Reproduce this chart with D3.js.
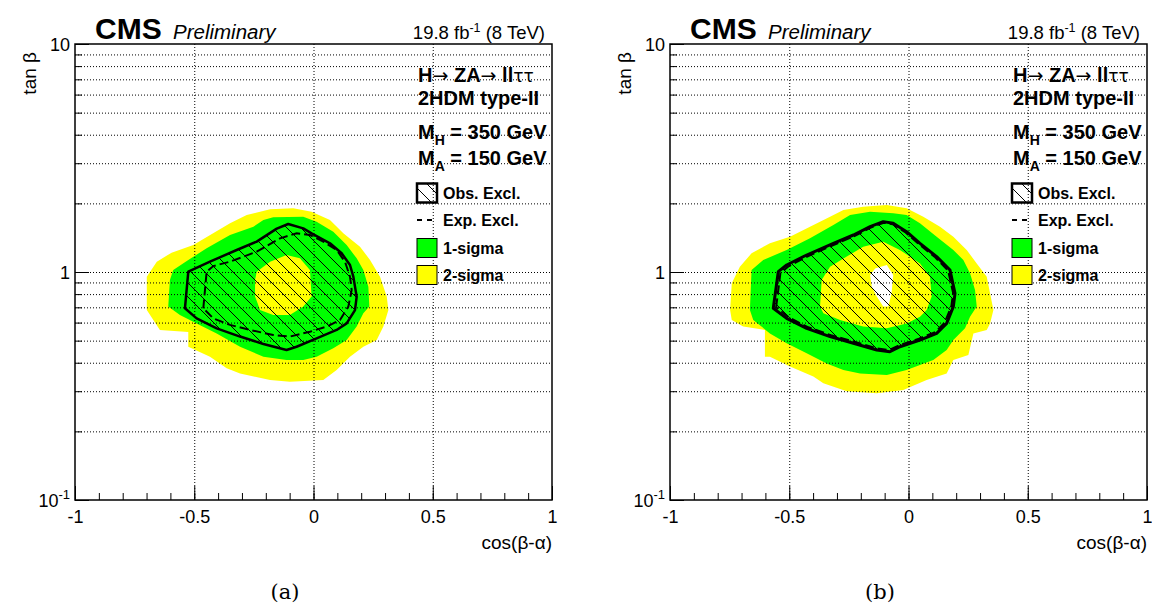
<!DOCTYPE html>
<html>
<head>
<meta charset="utf-8">
<script src="https://cdn.jsdelivr.net/npm/d3@7"></script>
<style>
  body { margin: 0; background: #fff; }
  svg text { font-family: "Liberation Sans", Arial, Helvetica, sans-serif; }
</style>
</head>
<body>
<svg id="chart" width="1152" height="605"></svg>
<script>
// ---- axis setup ----
const cosRange = [-1, 1];
const tanRange = [0.1, 10];
const cosMajorTicks = [-1, -0.5, 0, 0.5, 1];
const cosTickLabels = ["-1", "-0.5", "0", "0.5", "1"];
const cosGridTicks = [-0.5, 0, 0.5];
const tanMajorTicks = [0.1, 1, 10];

const panelCaptions = ["(a)", "(b)"];
const massLines = [["H", "350"], ["A", "150"]];
const legendEntries = ["Obs. Excl.", "Exp. Excl.", "1-sigma", "2-sigma"];

// ---- contours, points are [cos(β-α), tanβ] ----
// panel (a)
const twoSigmaA = [
  [-0.595, 1.216], [-0.504, 1.313], [-0.350, 1.635], [-0.280, 1.778], [-0.182, 1.884],
  [-0.085, 1.902], [-0.008, 1.839], [0.069, 1.690], [0.125, 1.478], [0.195, 1.291],
  [0.237, 1.129], [0.279, 0.954], [0.307, 0.780], [0.314, 0.681], [0.293, 0.576],
  [0.265, 0.503], [0.209, 0.470], [0.153, 0.425], [0.097, 0.372], [0.041, 0.336],
  [-0.099, 0.330], [-0.182, 0.336], [-0.308, 0.359], [-0.364, 0.378], [-0.434, 0.425],
  [-0.525, 0.470], [-0.525, 0.545], [-0.644, 0.557], [-0.699, 0.681], [-0.699, 0.954],
  [-0.657, 1.110]
];
const oneSigmaA = [
  [-0.588, 1.020], [-0.525, 1.129], [-0.448, 1.270], [-0.350, 1.453], [-0.252, 1.580],
  [-0.210, 1.690], [-0.169, 1.737], [-0.043, 1.748], [0.013, 1.663], [0.083, 1.503],
  [0.139, 1.313], [0.181, 1.148], [0.209, 1.020], [0.230, 0.862], [0.234, 0.705],
  [0.209, 0.659], [0.181, 0.576], [0.139, 0.503], [0.083, 0.463], [0.013, 0.425],
  [-0.043, 0.411], [-0.113, 0.411], [-0.210, 0.425], [-0.308, 0.470], [-0.406, 0.538],
  [-0.490, 0.595], [-0.560, 0.648], [-0.609, 0.705], [-0.602, 0.922]
];
const innerA = [
  [-0.238, 1.003], [-0.182, 1.110], [-0.113, 1.187], [-0.057, 1.148], [-0.015, 1.020],
  [-0.008, 0.780], [-0.043, 0.705], [-0.099, 0.648], [-0.169, 0.648], [-0.224, 0.681],
  [-0.245, 0.780], [-0.245, 0.922]
];
const observedA = [
  [-0.539, 0.693], [-0.525, 1.003], [-0.434, 1.110], [-0.322, 1.249], [-0.238, 1.359],
  [-0.154, 1.550], [-0.106, 1.624], [-0.043, 1.554], [-0.008, 1.478], [0.069, 1.336],
  [0.118, 1.208], [0.153, 1.073], [0.167, 0.954], [0.181, 0.780], [0.174, 0.681],
  [0.139, 0.595], [0.097, 0.557], [0.013, 0.512], [-0.071, 0.470], [-0.113, 0.455],
  [-0.210, 0.483], [-0.308, 0.521], [-0.406, 0.566], [-0.490, 0.626]
];
const expectedA = [
  [-0.462, 0.693], [-0.448, 1.003], [-0.420, 1.062], [-0.350, 1.110], [-0.238, 1.228],
  [-0.140, 1.405], [-0.071, 1.478], [-0.015, 1.453], [0.041, 1.359], [0.097, 1.249],
  [0.132, 1.110], [0.153, 0.954], [0.160, 0.834], [0.146, 0.705], [0.111, 0.616],
  [0.055, 0.576], [-0.015, 0.547], [-0.099, 0.521], [-0.169, 0.529], [-0.266, 0.557],
  [-0.350, 0.586], [-0.420, 0.626]
];

// panel (b)
const twoSigmaB = [
  [-0.748, 0.681], [-0.741, 0.892], [-0.707, 1.055], [-0.658, 1.208], [-0.581, 1.336],
  [-0.497, 1.429], [-0.413, 1.580], [-0.329, 1.748], [-0.273, 1.871], [-0.190, 1.934],
  [-0.091, 1.967], [-0.008, 1.902], [0.062, 1.748], [0.132, 1.580], [0.188, 1.429],
  [0.244, 1.249], [0.286, 1.091], [0.328, 0.954], [0.342, 0.806], [0.356, 0.681],
  [0.342, 0.595], [0.328, 0.557], [0.272, 0.538], [0.251, 0.433], [0.188, 0.411],
  [0.160, 0.359], [0.076, 0.336], [-0.022, 0.304], [-0.133, 0.294], [-0.259, 0.300],
  [-0.357, 0.325], [-0.399, 0.348], [-0.497, 0.385], [-0.581, 0.425], [-0.602, 0.425],
  [-0.602, 0.557], [-0.693, 0.576], [-0.741, 0.616]
];
const oneSigmaB = [
  [-0.665, 0.681], [-0.658, 1.020], [-0.609, 1.129], [-0.511, 1.249], [-0.413, 1.405],
  [-0.315, 1.607], [-0.245, 1.778], [-0.161, 1.839], [-0.064, 1.808], [-0.008, 1.778],
  [0.048, 1.635], [0.118, 1.429], [0.188, 1.249], [0.230, 1.129], [0.258, 0.987],
  [0.279, 0.834], [0.286, 0.705], [0.258, 0.637], [0.237, 0.566], [0.188, 0.503],
  [0.160, 0.455], [0.104, 0.411], [-0.008, 0.372], [-0.091, 0.353], [-0.203, 0.359],
  [-0.273, 0.372], [-0.343, 0.397], [-0.427, 0.440], [-0.511, 0.487], [-0.581, 0.538],
  [-0.651, 0.616]
];
const innerB = [
  [-0.364, 0.922], [-0.329, 1.055], [-0.259, 1.168], [-0.190, 1.291], [-0.106, 1.359],
  [-0.036, 1.249], [0.048, 1.091], [0.090, 0.954], [0.097, 0.780], [0.076, 0.681],
  [0.048, 0.637], [-0.008, 0.595], [-0.091, 0.566], [-0.190, 0.576], [-0.287, 0.616],
  [-0.357, 0.659], [-0.371, 0.705]
];
const holeB = [
  [-0.161, 0.970], [-0.140, 1.037], [-0.091, 1.073], [-0.064, 0.970], [-0.071, 0.806],
  [-0.085, 0.705], [-0.106, 0.705], [-0.133, 0.780], [-0.154, 0.862]
];
const observedB = [
  [-0.567, 0.693], [-0.546, 1.003], [-0.511, 1.073], [-0.427, 1.187], [-0.315, 1.336],
  [-0.231, 1.453], [-0.161, 1.580], [-0.106, 1.663], [-0.064, 1.635], [-0.008, 1.503],
  [0.048, 1.336], [0.118, 1.168], [0.174, 1.020], [0.195, 0.806], [0.188, 0.705],
  [0.160, 0.595], [0.118, 0.538], [0.048, 0.503], [-0.036, 0.470], [-0.078, 0.447],
  [-0.133, 0.455], [-0.231, 0.487], [-0.329, 0.521], [-0.427, 0.566], [-0.511, 0.626]
];
const expectedB = [
  [-0.555, 0.700], [-0.537, 0.990], [-0.500, 1.065], [-0.420, 1.175], [-0.310, 1.320],
  [-0.225, 1.440], [-0.158, 1.565], [-0.104, 1.645], [-0.066, 1.620], [-0.012, 1.490],
  [0.044, 1.325], [0.112, 1.160], [0.166, 1.015], [0.187, 0.810], [0.180, 0.710],
  [0.152, 0.600], [0.112, 0.545], [0.044, 0.510], [-0.038, 0.478], [-0.080, 0.455],
  [-0.133, 0.462], [-0.228, 0.495], [-0.325, 0.528], [-0.420, 0.572], [-0.502, 0.632]
];

const panels = [
  { left: 75,  twoSigma: twoSigmaA, oneSigma: oneSigmaA, inner: innerA, hole: null,
    observed: observedA, expected: expectedA, caption: panelCaptions[0], obsWidth: 2.5 },
  { left: 670, twoSigma: twoSigmaB, oneSigma: oneSigmaB, inner: innerB, hole: holeB,
    observed: observedB, expected: expectedB, caption: panelCaptions[1], obsWidth: 3 }
];

// ---- drawing ----
const W = 477, H = 456, TOP = 44;
const YELLOW = "#ffff00", GREEN = "#00ff00";
const SYMBOL_FONT = "'DejaVu Sans', sans-serif";

const svg = d3.select("#chart");
const defs = svg.append("defs");
const hatch = defs.append("pattern")
  .attr("id", "hatch")
  .attr("patternUnits", "userSpaceOnUse")
  .attr("width", 14).attr("height", 14);
hatch.append("path")
  .attr("d", "M-2,-2L16,16M12,-2L16,2M-2,12L2,16")
  .attr("stroke", "#000").attr("stroke-width", 1).attr("fill", "none");

const x = d3.scaleLinear().domain(cosRange).range([0, W]);
const y = d3.scaleLog().domain(tanRange).range([H, 0]);
const ring = d3.line().x(d => x(d[0])).y(d => y(d[1])).curve(d3.curveLinearClosed);

function styleAxis(sel) {
  sel.attr("font-family", null).attr("font-size", null);
  sel.select(".domain").remove();
}

panels.forEach(p => {
  const root = svg.append("g").attr("transform", `translate(${p.left},0)`);
  const g = root.append("g").attr("transform", `translate(0,${TOP})`);

  // expected-limit bands
  g.append("path").attr("d", ring(p.twoSigma)).attr("fill", YELLOW);
  g.append("path").attr("d", ring(p.oneSigma)).attr("fill", GREEN);
  g.append("path").attr("d", ring(p.inner)).attr("fill", YELLOW);
  if (p.hole) g.append("path").attr("d", ring(p.hole)).attr("fill", "#fff");

  // observed exclusion, hatched
  g.append("path").attr("d", ring(p.observed))
    .attr("fill", "url(#hatch)")
    .attr("stroke", "#000").attr("stroke-width", p.obsWidth)
    .attr("stroke-linejoin", "round");
  // expected exclusion, dashed
  g.append("path").attr("d", ring(p.expected))
    .attr("fill", "none")
    .attr("stroke", "#000").attr("stroke-width", 2)
    .attr("stroke-dasharray", "9,4");

  // dotted grid
  const gridV = g.append("g")
    .call(d3.axisBottom(x).tickValues(cosGridTicks).tickSize(H).tickFormat(""));
  styleAxis(gridV);
  const gridH = g.append("g")
    .call(d3.axisLeft(y).tickValues(y.ticks().filter(v => v > 0.1 && v < 10))
      .tickSize(-W).tickFormat(""));
  styleAxis(gridH);
  g.selectAll(".tick line").attr("stroke", "#000").attr("stroke-width", 1)
    .attr("stroke-dasharray", "1,2");

  // x axis ticks and labels
  const xMinor = g.append("g").attr("transform", `translate(0,${H})`)
    .call(d3.axisBottom(x).tickValues(x.ticks(20)).tickSize(-7).tickFormat(""));
  styleAxis(xMinor);
  const xMajor = g.append("g").attr("transform", `translate(0,${H})`)
    .call(d3.axisBottom(x).tickValues(cosMajorTicks).tickSize(-14).tickPadding(10)
      .tickFormat((d, i) => cosTickLabels[i]));
  styleAxis(xMajor);
  xMajor.selectAll("text").attr("font-size", 18).attr("fill", "#000");

  // y axis ticks
  const yMinor = g.append("g")
    .call(d3.axisLeft(y).tickValues(y.ticks()).tickSize(-7).tickFormat(""));
  styleAxis(yMinor);
  const yMajor = g.append("g")
    .call(d3.axisLeft(y).tickValues(tanMajorTicks).tickSize(-14).tickFormat(""));
  styleAxis(yMajor);
  [xMinor, xMajor, yMinor, yMajor].forEach(a =>
    a.selectAll(".tick line").attr("stroke", "#000").attr("stroke-width", 1));

  // y tick labels (10, 1, 10^-1)
  tanMajorTicks.forEach(v => {
    const t = g.append("text").attr("x", -5).attr("y", y(v) + 7)
      .attr("text-anchor", "end").attr("font-size", 18);
    if (v < 1) {
      t.append("tspan").text("10");
      t.append("tspan").attr("dy", -8).attr("font-size", 13).text("-1");
    } else {
      t.text(String(v));
    }
  });

  // frame
  g.append("rect").attr("width", W).attr("height", H)
    .attr("fill", "none").attr("stroke", "#000").attr("stroke-width", 1.5);

  // axis titles
  root.append("text").attr("x", W).attr("y", 549).attr("text-anchor", "end")
    .attr("font-size", 19).text("cos(β-α)");
  root.append("text").attr("transform", "translate(-39,52) rotate(-90)")
    .attr("text-anchor", "end").attr("font-size", 19).text("tan β");

  // header
  root.append("text").attr("x", 20).attr("y", 39).attr("font-size", 30)
    .attr("font-weight", "bold").text("CMS");
  root.append("text").attr("x", 98).attr("y", 39).attr("font-size", 20.5)
    .attr("font-style", "italic").text("Preliminary");
  const lumi = root.append("text").attr("x", 470).attr("y", 39)
    .attr("text-anchor", "end").attr("font-size", 18.5);
  lumi.append("tspan").text("19.8 fb");
  lumi.append("tspan").attr("dy", -7).attr("font-size", 12.5).text("-1");
  lumi.append("tspan").attr("dy", 7).text(" (8 TeV)");

  // legend text block
  const LX = 343;
  const proc = root.append("text").attr("x", LX).attr("y", 82).attr("font-size", 20)
    .attr("font-weight", "bold");
  proc.append("tspan").text("H");
  proc.append("tspan").attr("font-weight", "normal").attr("font-size", 19)
    .attr("font-family", SYMBOL_FONT).text("→");
  proc.append("tspan").text(" ZA");
  proc.append("tspan").attr("font-weight", "normal").attr("font-size", 19)
    .attr("font-family", SYMBOL_FONT).text("→");
  proc.append("tspan").text(" ll");
  proc.append("tspan").attr("font-weight", "normal").attr("font-size", 17)
    .attr("font-family", SYMBOL_FONT).text("ττ");
  root.append("text").attr("x", LX).attr("y", 105).attr("font-size", 20)
    .attr("font-weight", "bold").text("2HDM type-II");
  massLines.forEach((m, i) => {
    const t = root.append("text").attr("x", LX).attr("y", 139 + i * 26)
      .attr("font-size", 20).attr("font-weight", "bold");
    t.append("tspan").text("M");
    t.append("tspan").attr("dy", 6).attr("font-size", 14).text(m[0]);
    t.append("tspan").attr("dy", -6).text(` = ${m[1]} GeV`);
  });

  // legend entries
  const rowY = [193, 220, 248, 275];
  const boxX = 342, boxW = 20, boxH = 19;
  // observed swatch
  root.append("rect").attr("x", boxX).attr("y", rowY[0] - boxH / 2)
    .attr("width", boxW).attr("height", boxH)
    .attr("fill", "url(#hatch)").attr("stroke", "#000").attr("stroke-width", 2.5);
  // expected swatch
  root.append("line").attr("x1", boxX).attr("x2", boxX + 16)
    .attr("y1", rowY[1]).attr("y2", rowY[1])
    .attr("stroke", "#000").attr("stroke-width", 2).attr("stroke-dasharray", "5,5");
  // band swatches
  [GREEN, YELLOW].forEach((c, i) => {
    root.append("rect").attr("x", boxX).attr("y", rowY[i + 2] - boxH / 2)
      .attr("width", boxW).attr("height", boxH)
      .attr("fill", c).attr("stroke", "#000").attr("stroke-width", 1);
  });
  legendEntries.forEach((label, i) => {
    root.append("text").attr("x", boxX + 26).attr("y", rowY[i] + 6)
      .attr("font-size", 16).attr("font-weight", "bold").text(label);
  });

  // sub-figure caption
  root.append("text").attr("x", 210).attr("y", 599).attr("text-anchor", "middle")
    .attr("font-size", 21)
    .style("font-family", "'DejaVu Serif', 'Liberation Serif', serif")
    .text(p.caption);
});
</script>
</body>
</html>
